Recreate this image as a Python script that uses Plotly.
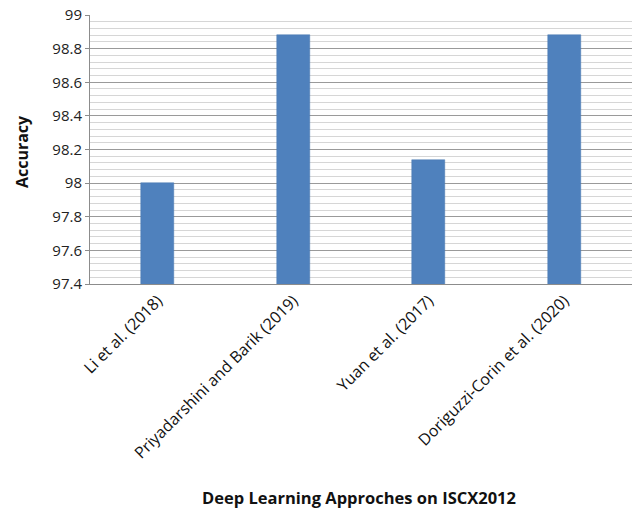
import plotly.graph_objects as go

categories = ["Li et al. (2018)", "Priyadarshini and Barik (2019)", "Yuan et al. (2017)", "Doriguzzi-Corin et al. (2020)"]
accuracy = [98.0, 98.88, 98.14, 98.88]
y_title = "Accuracy"
x_title = "Deep Learning Approches on ISCX2012"

FONT = "Open Sans, sans-serif"

fig = go.Figure()
fig.add_trace(go.Bar(
    x=categories, y=accuracy, width=0.24,
    marker=dict(color="#4F81BD", line=dict(color="#4A7AB3", width=0.5)),
))

fig.update_layout(
    width=636, height=515,
    margin=dict(l=90, r=4, t=15, b=231),
    paper_bgcolor="white", plot_bgcolor="white",
    showlegend=False,
    font=dict(family=FONT, size=14, color="#222"),
    bargap=0,
)
fig.update_yaxes(
    range=[97.4, 99], dtick=0.2, tick0=97.4,
    showgrid=True, gridcolor="#9a9a9a", gridwidth=1,
    minor=dict(dtick=0.04, showgrid=True, gridcolor="#d6d6d6", gridwidth=1),
    showline=True, linecolor="#8c8c8c", linewidth=1,
    ticks="outside", ticklen=4, tickcolor="#8c8c8c",
    tickfont=dict(size=15, family=FONT, color="#222"),
    zeroline=False,
)
fig.update_xaxes(
    showline=True, linecolor="#8c8c8c", linewidth=1,
    tickangle=-45, tickfont=dict(size=16, family=FONT, color="#111"),
    showgrid=False, ticks="",
)
fig.add_annotation(
    text="<b>" + y_title + "</b>", textangle=-90,
    xref="paper", yref="paper", x=-0.1255, y=0.494,
    xanchor="center", yanchor="middle", showarrow=False,
    font=dict(size=16, family=FONT, color="#111"),
)
fig.add_annotation(
    text="<b>" + x_title + "</b>",
    xref="paper", yref="paper", x=0.496, y=-0.792,
    xanchor="center", yanchor="middle", showarrow=False,
    font=dict(size=16.5, family=FONT, color="#111"),
)
fig.write_html("out.html", config={"displayModeBar": False},
               post_script="document.body.style.margin='0';")
